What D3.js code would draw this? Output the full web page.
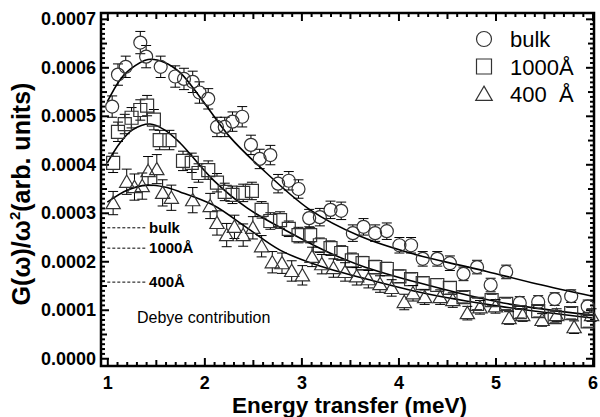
<!DOCTYPE html>
<html>
<head>
<meta charset="utf-8">
<script src="https://cdn.jsdelivr.net/npm/d3@7"></script>
<style>
  body { margin: 0; background: #fff; }
  svg { display: block; font-family: "Liberation Sans", Arial, Helvetica, sans-serif; }
</style>
</head>
<body>
<svg id="chart" width="600" height="417"></svg>
<script>
// values, G(w)/w^2 in units of 1e-4 (arb.)
const U = 1e-4;

const bulkE = [1.05,1.11,1.19,1.34,1.40,1.55,1.70,1.79,1.88,1.95,2.04,2.13,2.21,2.29,2.39,2.48,2.57,2.68,2.76,2.87,2.97,3.08,3.19,3.30,3.41,3.53,3.64,3.76,3.88,4.01,4.13,4.25,4.40,4.53,4.67,4.81,4.95,5.11,5.25,5.44,5.61,5.78,5.95];
const bulkG = [5.19,5.85,6.01,6.51,6.22,6.01,5.81,5.76,5.70,5.48,5.35,4.77,4.77,4.88,4.98,4.40,4.11,4.19,3.60,3.66,3.49,2.89,2.91,3.06,3.04,2.58,2.71,2.58,2.62,2.33,2.33,2.05,2.05,1.96,1.74,1.88,1.51,1.78,1.14,1.16,1.22,1.28,1.07];
const bulkErr = [0.22,0.22,0.22,0.23,0.23,0.22,0.22,0.22,0.22,0.22,0.21,0.20,0.20,0.20,0.21,0.20,0.20,0.20,0.19,0.19,0.19,0.18,0.18,0.18,0.18,0.17,0.17,0.17,0.17,0.16,0.16,0.15,0.15,0.15,0.14,0.14,0.14,0.14,0.13,0.13,0.13,0.13,0.13];

const e1000E = [1.06,1.11,1.18,1.25,1.34,1.41,1.48,1.54,1.64,1.78,1.87,1.94,2.04,2.13,2.21,2.29,2.40,2.49,2.59,2.68,2.78,2.87,2.97,3.09,3.19,3.30,3.41,3.52,3.63,3.76,3.88,4.01,4.13,4.25,4.40,4.53,4.67,4.81,4.96,5.11,5.25,5.44,5.61,5.78,5.95];
const e1000G = [4.03,4.67,4.83,4.96,5.12,5.21,4.92,4.50,4.50,4.07,4.03,3.82,3.88,3.62,3.43,3.37,3.41,3.45,3.06,2.83,2.85,2.67,2.54,2.54,2.33,2.27,2.17,2.02,1.96,1.88,1.84,1.69,1.63,1.55,1.51,1.45,1.26,1.12,1.20,1.12,0.95,0.97,0.85,0.93,0.76];
const e1000Err = [0.20,0.20,0.20,0.21,0.21,0.21,0.21,0.20,0.20,0.20,0.20,0.19,0.19,0.19,0.18,0.18,0.18,0.18,0.17,0.17,0.17,0.16,0.16,0.16,0.15,0.15,0.15,0.15,0.14,0.14,0.14,0.13,0.13,0.13,0.13,0.13,0.12,0.12,0.12,0.12,0.12,0.12,0.12,0.12,0.12];

const e400E = [1.06,1.20,1.28,1.36,1.42,1.51,1.57,1.66,1.88,2.06,2.13,2.23,2.31,2.40,2.50,2.59,2.70,2.80,2.90,3.01,3.11,3.21,3.33,3.45,3.57,3.69,3.81,3.93,4.06,4.15,4.27,4.43,4.56,4.71,4.84,5.00,5.14,5.28,5.48,5.63,5.81,5.99];
const e400G = [3.20,3.64,3.53,3.55,3.86,3.90,3.41,3.31,3.26,3.14,2.79,2.54,2.71,2.54,2.69,2.31,1.98,1.96,1.80,1.71,2.09,1.94,1.86,1.78,1.69,1.63,1.53,1.45,1.16,1.34,1.26,1.26,1.20,0.93,1.05,1.07,0.83,0.89,0.79,0.89,0.64,0.89];
const e400Err = [0.24,0.26,0.27,0.27,0.30,0.30,0.27,0.26,0.26,0.26,0.25,0.24,0.24,0.23,0.23,0.22,0.22,0.21,0.21,0.20,0.20,0.20,0.19,0.19,0.18,0.18,0.17,0.17,0.16,0.16,0.15,0.15,0.15,0.14,0.14,0.14,0.13,0.13,0.13,0.13,0.13,0.13];

// fitted curves, read at a few energies
const fitBulkE = [1.00,1.13,1.23,1.42,1.59,1.75,1.95,2.26,2.57,3.09,3.60,4.12,4.63,4.91,5.43,6.00];
const fitBulkG = [5.29,5.74,5.95,6.16,6.10,5.89,5.40,4.57,3.95,3.06,2.52,2.17,1.92,1.79,1.53,1.28];
const fit1000E = [1.00,1.13,1.26,1.44,1.59,1.75,2.09,2.44,2.78,3.26,3.60,4.22,5.08,6.00];
const fit1000G = [4.03,4.44,4.71,4.83,4.71,4.44,3.68,3.10,2.70,2.20,1.92,1.55,1.14,0.89];
const fit400E = [1.00,1.21,1.41,1.59,1.75,2.09,2.44,2.78,3.19,3.60,4.22,5.05,6.00];
const fit400G = [3.22,3.47,3.57,3.53,3.43,3.16,2.69,2.23,1.90,1.67,1.36,1.07,0.83];

// Debye levels drawn as short dashed lines
const debyeNames = ["bulk", "1000Å", "400Å"];
const debyeG = [2.69, 2.27, 1.57];
const debyeSpan = [1.0, 1.41];

const seriesNames = ["bulk", "1000Å", "400  Å"];
const seriesShapes = ["circle", "square", "triangle"];

const xTicks = [1, 2, 3, 4, 5, 6];
const yTicks = [0, 1e-4, 2e-4, 3e-4, 4e-4, 5e-4, 6e-4, 7e-4];

const pLeft = 101, pRight = 594, pTop = 13, pBottom = 366;

let svg = d3.select("#chart");
let x = d3.scaleLinear().domain([0.935, 6.015]).range([pLeft, pRight]);
let y = d3.scaleLinear().domain([-0.16e-4, 7.12e-4]).range([pBottom, pTop]);

// ---- ticks (all pointing inward) ----
let xMinor = d3.range(10, 61).filter(d => d % 5 !== 0).map(d => d / 10);
let xHalf = [1.5, 2.5, 3.5, 4.5, 5.5];
let yMinor = d3.range(0, 71).filter(d => d % 5 !== 0).map(d => d * 1e-5);
let yHalf = d3.range(0, 7).map(d => (d + 0.5) * 1e-4);

function tickGroup(axis, transform) {
  let g = svg.append("g").attr("transform", transform).call(axis);
  g.select(".domain").remove();
  g.selectAll("line").attr("stroke", "#000").attr("stroke-width", 2);
  return g;
}

[["translate(0," + pBottom + ")", d3.axisBottom],
 ["translate(0," + pTop + ")", d3.axisTop]].forEach(function (s) {
  tickGroup(s[1](x).tickValues(xMinor).tickSize(-4).tickFormat(""), s[0]);
  tickGroup(s[1](x).tickValues(xHalf).tickSize(-6).tickFormat(""), s[0]);
  tickGroup(s[1](x).tickValues(xTicks).tickSize(-8).tickFormat(""), s[0]);
});
[["translate(" + pLeft + ",0)", d3.axisLeft],
 ["translate(" + pRight + ",0)", d3.axisRight]].forEach(function (s) {
  tickGroup(s[1](y).tickValues(yMinor).tickSize(-4).tickFormat(""), s[0]);
  tickGroup(s[1](y).tickValues(yHalf).tickSize(-6).tickFormat(""), s[0]);
  tickGroup(s[1](y).tickValues(yTicks).tickSize(-8).tickFormat(""), s[0]);
});

// tick labels
let xl = tickGroup(d3.axisBottom(x).tickValues(xTicks).tickSize(0).tickPadding(10).tickFormat(d3.format("d")), "translate(0," + pBottom + ")");
xl.selectAll("text").attr("font-size", 18).attr("font-weight", "bold").attr("fill", "#000");
xl.attr("font-family", null);
let yl = tickGroup(d3.axisLeft(y).tickValues(yTicks).tickSize(0).tickPadding(5).tickFormat(d3.format(".4f")), "translate(" + pLeft + ",0)");
yl.selectAll("text").attr("font-size", 18).attr("font-weight", "bold").attr("fill", "#000");
yl.attr("font-family", null);

// frame
svg.append("rect")
  .attr("x", pLeft).attr("y", pTop)
  .attr("width", pRight - pLeft).attr("height", pBottom - pTop)
  .attr("fill", "none").attr("stroke", "#000").attr("stroke-width", 2.5);

// axis titles
svg.append("text")
  .attr("x", (pLeft + pRight) / 2 + 2).attr("y", 413)
  .attr("text-anchor", "middle")
  .attr("font-size", 22.5).attr("font-weight", "bold")
  .text("Energy transfer (meV)");

let yt = svg.append("text")
  .attr("transform", "translate(30,194) rotate(-90)")
  .attr("text-anchor", "middle")
  .attr("font-size", 25).attr("font-weight", "bold");
yt.append("tspan").text("G(ω)/ω");
yt.append("tspan").attr("font-size", 15).attr("dy", -10).text("2");
yt.append("tspan").attr("dy", 10).text("(arb. units)");

// ---- fitted curves ----
let line = d3.line()
  .x(d => x(d[0]))
  .y(d => y(d[1] * U))
  .curve(d3.curveCatmullRom.alpha(0.5));

[[fitBulkE, fitBulkG], [fit1000E, fit1000G], [fit400E, fit400G]].forEach(function (f) {
  svg.append("path")
    .datum(d3.zip(f[0], f[1]))
    .attr("d", line)
    .attr("fill", "none")
    .attr("stroke", "#000")
    .attr("stroke-width", 1.6);
});

// ---- markers with error bars ----
function shapePath(shape, cx, cy, s) {
  if (shape === "circle") {
    return "M" + (cx - s) + "," + cy + "a" + s + "," + s + " 0 1,0 " + (2 * s) + ",0a" + s + "," + s + " 0 1,0 " + (-2 * s) + ",0Z";
  }
  if (shape === "square") {
    return "M" + (cx - s) + "," + (cy - s) + "h" + (2 * s) + "v" + (2 * s) + "h" + (-2 * s) + "Z";
  }
  let h = s * 1.9;
  return "M" + cx + "," + (cy - h * 0.55) + "L" + (cx + s * 1.1) + "," + (cy + h * 0.45) + "L" + (cx - s * 1.1) + "," + (cy + h * 0.45) + "Z";
}
function shapeExtent(shape, s) {
  if (shape === "triangle") return [s * 1.9 * 0.55, s * 1.9 * 0.45];
  return [s, s];
}

let dataSets = [
  [bulkE, bulkG, bulkErr],
  [e1000E, e1000G, e1000Err],
  [e400E, e400G, e400Err]
];

dataSets.forEach(function (ds, k) {
  let shape = seriesShapes[k];
  let size = 6.5;
  let ext = shapeExtent(shape, size);
  let pts = d3.zip(ds[0], ds[1], ds[2]);
  let g = svg.append("g").attr("class", "series-" + k);

  g.selectAll(".err")
    .data(pts)
    .enter().append("path")
    .attr("class", "err")
    .attr("fill", "none")
    .attr("stroke", "#000")
    .attr("stroke-width", 1)
    .attr("d", function (d) {
      let cx = x(d[0]), cy = y(d[1] * U);
      let t = y((d[1] + d[2]) * U), b = y((d[1] - d[2]) * U);
      let p = "M" + (cx - 5) + "," + t + "H" + (cx + 5) + "M" + (cx - 5) + "," + b + "H" + (cx + 5);
      if (t < cy - ext[0]) p += "M" + cx + "," + t + "V" + (cy - ext[0]);
      if (b > cy + ext[1]) p += "M" + cx + "," + (cy + ext[1]) + "V" + b;
      return p;
    });

  g.selectAll(".mk")
    .data(pts)
    .enter().append("path")
    .attr("class", "mk")
    .attr("fill", "none")
    .attr("stroke", "#333")
    .attr("stroke-width", 1.2)
    .attr("d", d => shapePath(shape, x(d[0]), y(d[1] * U), size));
});

// ---- legend ----
seriesNames.forEach(function (name, i) {
  let cy = 39 + i * 27.5;
  svg.append("path")
    .attr("d", shapePath(seriesShapes[i], 484, cy, 7.5))
    .attr("fill", "none").attr("stroke", "#333").attr("stroke-width", 1.2);
  svg.append("text")
    .attr("x", 510).attr("y", cy + 8)
    .attr("font-size", 22)
    .style("white-space", "pre")
    .text(name);
});

// ---- Debye contribution levels ----
debyeNames.forEach(function (name, i) {
  svg.append("line")
    .attr("x1", x(debyeSpan[0])).attr("x2", x(debyeSpan[1]))
    .attr("y1", y(debyeG[i] * U)).attr("y2", y(debyeG[i] * U))
    .attr("stroke", "#000").attr("stroke-width", 1)
    .attr("stroke-dasharray", "3,2");
  svg.append("text")
    .attr("x", x(debyeSpan[1]) + 2).attr("y", y(debyeG[i] * U) + 5)
    .attr("font-size", 15).attr("font-weight", "bold")
    .text(name);
});

svg.append("text")
  .attr("x", 137).attr("y", 323)
  .attr("font-size", 16)
  .text("Debye contribution");
</script>
</body>
</html>
